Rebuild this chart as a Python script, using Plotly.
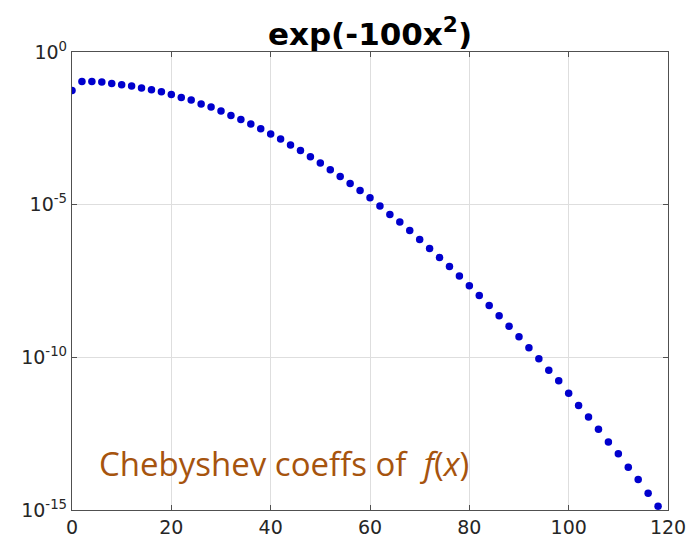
import plotly.graph_objects as go

# Chebyshev coefficient index (even only) and magnitudes
k = list(range(0, 120, 2))
coeffs = [
    5.52e-2, 1.09e-1, 1.09e-1, 1.04e-1, 9.35e-2, 8.49e-2, 7.69e-2, 6.61e-2,
    5.82e-2, 5.00e-2, 4.08e-2, 3.25e-2, 2.67e-2, 1.98e-2, 1.58e-2, 1.17e-2,
    8.37e-3, 6.19e-3, 4.38e-3, 3.07e-3, 2.06e-3, 1.41e-3, 8.97e-4, 5.97e-4,
    3.71e-4, 2.31e-4, 1.39e-4, 8.39e-5, 4.95e-5, 2.92e-5, 1.68e-5, 9.0e-6,
    4.78e-6, 2.69e-6, 1.43e-6, 7.24e-7, 3.67e-7, 1.86e-7, 9.44e-8, 4.58e-8,
    2.20e-8, 1.06e-8, 4.98e-9, 2.29e-9, 1.05e-9, 4.70e-10, 2.05e-10, 8.93e-11,
    3.80e-11, 1.70e-11, 6.71e-12, 2.64e-12, 1.12e-12, 4.44e-13, 1.70e-13,
    6.89e-14, 2.52e-14, 9.91e-15, 3.55e-15, 1.33e-15,
]

x_ticks = [0, 20, 40, 60, 80, 100, 120]
y_ticks = [1e-15, 1e-10, 1e-5, 1e0]
y_ticktext = ["10<sup>-15</sup>", "10<sup>-10</sup>", "10<sup>-5</sup>", "10<sup>0</sup>"]

title_text = "exp(-100x<sup>2</sup>)"
note_text = "Chebyshev coeffs of  <i>f</i>(<i>x</i>)"

fig = go.Figure()
fig.add_trace(go.Scatter(
    x=k, y=coeffs, mode="markers",
    marker=dict(color="rgb(0,0,205)", size=7.5, line=dict(width=0)),
    showlegend=False,
))

axis_common = dict(
    showline=True, linecolor="#505050", linewidth=1.3,
    mirror="ticks", ticks="inside", ticklen=5, tickcolor="#505050",
    showgrid=True, gridcolor="rgb(222,222,222)", gridwidth=1,
    zeroline=False, automargin=False,
    tickfont=dict(family="DejaVu Sans", size=19, color="#262626"),
)

fig.update_xaxes(range=[0, 120], tickvals=x_ticks, **axis_common)
fig.update_yaxes(type="log", range=[-15, 0], tickvals=y_ticks,
                 ticktext=y_ticktext, **axis_common)

fig.update_layout(
    width=687, height=541,
    margin=dict(l=72, r=19, t=52, b=31),
    paper_bgcolor="white", plot_bgcolor="white",
    title=dict(text="<b>" + title_text + "</b>", x=0.5, xref="paper",
               y=1, yref="paper", yanchor="bottom", pad=dict(b=7),
               automargin=False,
               font=dict(family="DejaVu Sans", size=31, color="black")),
    annotations=[dict(
        text=note_text, xref="paper", yref="paper",
        x=(97 - 72) / 596, y=(510 - 463) / 458,
        xanchor="left", yanchor="middle", showarrow=False,
        font=dict(family="Open Sans", size=33, color="rgb(166,84,14)"),
    )],
)

fig.write_html("out.html")
